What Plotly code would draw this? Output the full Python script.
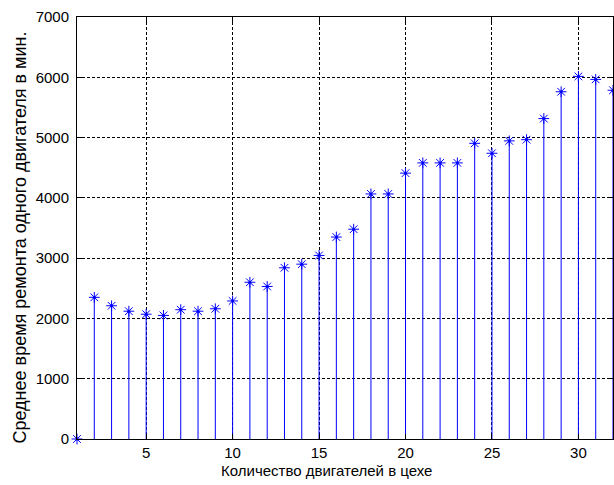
import plotly.graph_objects as go

engines = list(range(1, 33))
repair_minutes = [0, 2350, 2210, 2120, 2070, 2050, 2145, 2120, 2160, 2290,
                  2600, 2530, 2840, 2900, 3045, 3350, 3480, 4065, 4065, 4410,
                  4580, 4580, 4580, 4905, 4740, 4945, 4965, 5315, 5760, 6015,
                  5965, 5785]
x_ticks = [5, 10, 15, 20, 25, 30]
y_ticks = [0, 1000, 2000, 3000, 4000, 5000, 6000, 7000]
x_title = "Количество двигателей в цехе"
y_title = "Среднее время ремонта одного двигателя в мин."

BLUE = "#0000FF"
FONT = "Liberation Sans, Arial, sans-serif"
TXT = "#000000"

sx, sy = [], []
for xv, yv in zip(engines, repair_minutes):
    sx += [xv, xv, None]
    sy += [0, yv, None]

fig = go.Figure()
fig.add_trace(go.Scatter(x=sx, y=sy, mode="lines",
                         line=dict(color=BLUE, width=1),
                         hoverinfo="skip", showlegend=False, cliponaxis=False))
fig.add_trace(go.Scatter(x=engines, y=repair_minutes, mode="markers",
                         marker=dict(symbol="asterisk-open", size=9,
                                     line=dict(color=BLUE, width=1), color=BLUE),
                         showlegend=False, cliponaxis=False))
fig.add_trace(go.Scatter(x=engines, y=repair_minutes, mode="markers",
                         marker=dict(symbol="circle", size=3, color=BLUE),
                         showlegend=False, cliponaxis=False))

axis_common = dict(
    showline=True, linecolor="black", linewidth=1, mirror="allticks",
    ticks="inside", ticklen=5, tickcolor="black",
    showgrid=True, gridcolor="black", gridwidth=1, griddash="3px,2px",
    zeroline=False, automargin=False,
    tickfont=dict(family=FONT, size=15, color=TXT),
)
fig.update_xaxes(range=[1, 32], tickvals=x_ticks, **axis_common)
fig.update_yaxes(range=[0, 7000], tickvals=y_ticks, ticklabelstandoff=4, **axis_common)

# axis titles, placed off-centre as in the original MATLAB figure
fig.add_annotation(text=x_title, xref="paper", yref="paper", x=0.4646, y=-0.0735,
                   xanchor="center", yanchor="middle", showarrow=False,
                   font=dict(family=FONT, size=15, color=TXT))
fig.add_annotation(text=y_title, xref="paper", yref="paper", x=-0.1063, y=0.4775,
                   xanchor="center", yanchor="middle", showarrow=False, textangle=-90,
                   font=dict(family=FONT, size=18, color=TXT))

fig.update_layout(width=614, height=485,
                  margin=dict(l=77, r=1, t=17, b=46),
                  paper_bgcolor="white", plot_bgcolor="white",
                  font=dict(family=FONT, size=15, color=TXT))

# remove the default page margin so the figure fills the window exactly
fig.write_html("out.html", config={"displayModeBar": False},
               post_script="document.body.style.margin='0';document.body.style.overflow='hidden';")
